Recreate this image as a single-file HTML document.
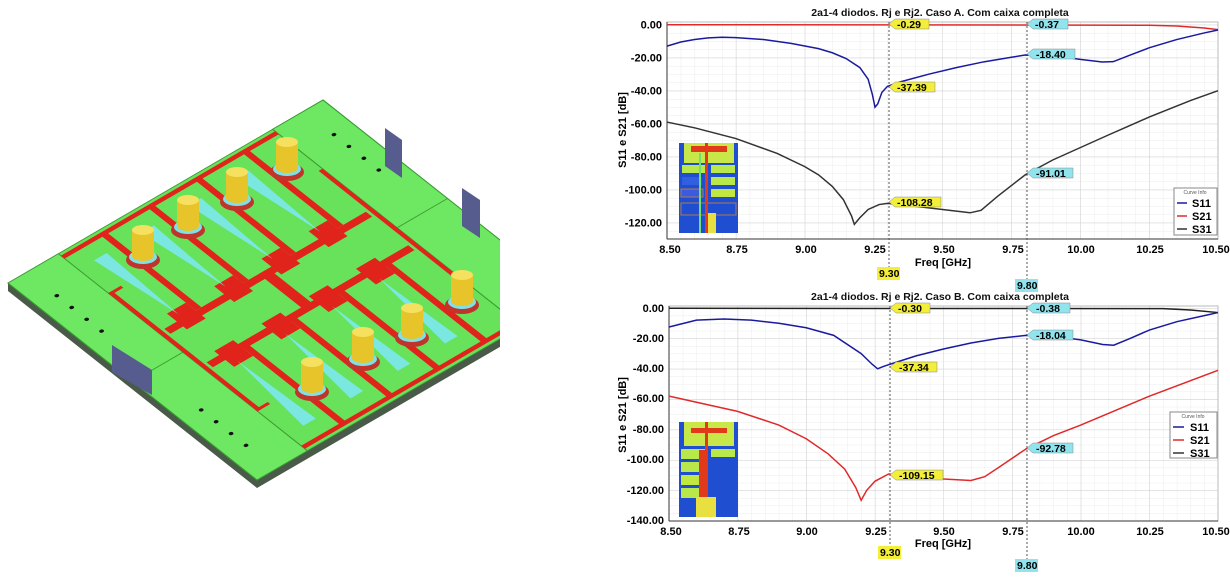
<!DOCTYPE html>
<html><head><meta charset="utf-8"><style>
html,body{margin:0;padding:0;background:#fff;}
svg{display:block;font-family:"Liberation Sans",Arial,sans-serif;}
.t{font-size:10.5px;font-weight:bold;fill:#111;}
.lbl{font-size:11px;font-weight:bold;fill:#000;}
.mk{font-size:10.5px;font-weight:bold;fill:#000;}
</style></head><body>
<svg width="1230" height="584" viewBox="0 0 1230 584" xmlns="http://www.w3.org/2000/svg">
<defs>
 <pattern id="minT" patternUnits="userSpaceOnUse" x="667" y="24.7" width="13.775" height="8.25"><path d="M0 0V8.25M0 0H13.775" stroke="#ececec" stroke-width="1" fill="none"/></pattern>
 <pattern id="majT" patternUnits="userSpaceOnUse" x="667" y="24.7" width="68.875" height="33"><path d="M0 0V33M0 0H68.875" stroke="#cfcfcf" stroke-width="1" fill="none"/></pattern>
 <pattern id="minB" patternUnits="userSpaceOnUse" x="669" y="308" width="13.725" height="7.6"><path d="M0 0V7.6M0 0H13.725" stroke="#ececec" stroke-width="1" fill="none"/></pattern>
 <pattern id="majB" patternUnits="userSpaceOnUse" x="669" y="308" width="68.625" height="30.4"><path d="M0 0V30.4M0 0H68.625" stroke="#cfcfcf" stroke-width="1" fill="none"/></pattern>
 <clipPath id="lc"><rect x="0" y="0" width="500" height="584"/></clipPath>
</defs>

<!-- LEFT PCB -->
<g clip-path="url(#lc)">
 <polygon points="8,283 257,480 572,297 572,305 257,488 8,291" fill="#4a5a48"/>
 <g transform="matrix(3.15,-1.83,2.49,1.97,8,283)">
  <rect x="0" y="0" width="100" height="100" fill="#68e25a" stroke="#3a9a30" stroke-width="0.3"/>
  <rect x="0" y="0" width="16" height="100" fill="#6ee862" stroke="#3a9a30" stroke-width="0.3"/>
  <rect x="84" y="0" width="16" height="100" fill="#6ee862" stroke="#3a9a30" stroke-width="0.3"/>
  <line x1="0" y1="50" x2="16" y2="50" stroke="#3a9a30" stroke-width="0.3"/>
  <line x1="84" y1="50" x2="100" y2="50" stroke="#3a9a30" stroke-width="0.3"/>
  <g fill="#e0241c">
   <rect x="16" y="1" width="68" height="1.5"/>
   <rect x="16" y="97.5" width="68" height="1.5"/>
   <rect x="18" y="40" width="64" height="2.5"/>
   <rect x="18" y="57" width="64" height="2.5"/>
   <rect x="48" y="40" width="3" height="19"/>
   <rect x="28" y="2" width="1.8" height="38"/><rect x="43" y="2" width="1.8" height="38"/><rect x="58" y="2" width="1.8" height="38"/><rect x="73" y="2" width="1.8" height="38"/>
   <rect x="28" y="59" width="1.8" height="39"/><rect x="43" y="59" width="1.8" height="39"/><rect x="58" y="59" width="1.8" height="39"/><rect x="73" y="59" width="1.8" height="39"/>
   <rect x="22" y="36" width="6" height="8"/><rect x="37" y="36" width="6" height="8"/><rect x="52" y="36" width="6" height="8"/><rect x="67" y="36" width="6" height="8"/>
   <rect x="22" y="55" width="6" height="8"/><rect x="37" y="55" width="6" height="8"/><rect x="52" y="55" width="6" height="8"/><rect x="67" y="55" width="6" height="8"/>
   <rect x="16" y="20" width="1.2" height="60"/><rect x="82.8" y="20" width="1.2" height="60"/>
   <rect x="16" y="20" width="4" height="1"/><rect x="16" y="79" width="4" height="1"/>
  </g>
  <g fill="#111"><circle cx="6" cy="12" r="0.6"/><circle cx="6" cy="18" r="0.6"/><circle cx="6" cy="24" r="0.6"/><circle cx="6" cy="30" r="0.6"/><circle cx="6" cy="70" r="0.6"/><circle cx="6" cy="76" r="0.6"/><circle cx="6" cy="82" r="0.6"/><circle cx="6" cy="88" r="0.6"/>
  <circle cx="94" cy="12" r="0.6"/><circle cx="94" cy="18" r="0.6"/><circle cx="94" cy="24" r="0.6"/><circle cx="94" cy="30" r="0.6"/></g>
  <g fill="#7ee8f0" opacity="0.9">
   <polygon points="21,8 25,8 24,38"/><polygon points="36,8 40,8 39,38"/><polygon points="51,8 55,8 54,38"/><polygon points="66,8 70,8 69,38"/>
   <polygon points="21,92 25,92 24,62"/><polygon points="36,92 40,92 39,62"/><polygon points="51,92 55,92 54,62"/><polygon points="66,92 70,92 69,62"/>
  </g>
 </g>
 <polygon points="385,128 402,140 402,178 385,166" fill="#565c8e"/>
 <polygon points="462,188 480,200 480,238 462,226" fill="#565c8e"/>
 <polygon points="112,345 152,370 152,395 112,372" fill="#565c8e"/>
 <g>
  <g transform="translate(143,240)"><ellipse cx="0" cy="20" rx="17" ry="9" fill="#c0342c"/><ellipse cx="0" cy="17" rx="14" ry="7" fill="#7ee0ea"/><rect x="-11" y="-10" width="22" height="26" fill="#e6c42a"/><ellipse cx="0" cy="16" rx="11" ry="5" fill="#e6c42a"/><ellipse cx="0" cy="-10" rx="11" ry="5" fill="#f6e060"/></g>
  <g transform="translate(188,210)"><ellipse cx="0" cy="20" rx="17" ry="9" fill="#c0342c"/><ellipse cx="0" cy="17" rx="14" ry="7" fill="#7ee0ea"/><rect x="-11" y="-10" width="22" height="26" fill="#e6c42a"/><ellipse cx="0" cy="16" rx="11" ry="5" fill="#e6c42a"/><ellipse cx="0" cy="-10" rx="11" ry="5" fill="#f6e060"/></g>
  <g transform="translate(237,182)"><ellipse cx="0" cy="20" rx="17" ry="9" fill="#c0342c"/><ellipse cx="0" cy="17" rx="14" ry="7" fill="#7ee0ea"/><rect x="-11" y="-10" width="22" height="26" fill="#e6c42a"/><ellipse cx="0" cy="16" rx="11" ry="5" fill="#e6c42a"/><ellipse cx="0" cy="-10" rx="11" ry="5" fill="#f6e060"/></g>
  <g transform="translate(287,152)"><ellipse cx="0" cy="20" rx="17" ry="9" fill="#c0342c"/><ellipse cx="0" cy="17" rx="14" ry="7" fill="#7ee0ea"/><rect x="-11" y="-10" width="22" height="26" fill="#e6c42a"/><ellipse cx="0" cy="16" rx="11" ry="5" fill="#e6c42a"/><ellipse cx="0" cy="-10" rx="11" ry="5" fill="#f6e060"/></g>
  <g transform="translate(312,372)"><ellipse cx="0" cy="20" rx="17" ry="9" fill="#c0342c"/><ellipse cx="0" cy="17" rx="14" ry="7" fill="#7ee0ea"/><rect x="-11" y="-10" width="22" height="26" fill="#e6c42a"/><ellipse cx="0" cy="16" rx="11" ry="5" fill="#e6c42a"/><ellipse cx="0" cy="-10" rx="11" ry="5" fill="#f6e060"/></g>
  <g transform="translate(363,342)"><ellipse cx="0" cy="20" rx="17" ry="9" fill="#c0342c"/><ellipse cx="0" cy="17" rx="14" ry="7" fill="#7ee0ea"/><rect x="-11" y="-10" width="22" height="26" fill="#e6c42a"/><ellipse cx="0" cy="16" rx="11" ry="5" fill="#e6c42a"/><ellipse cx="0" cy="-10" rx="11" ry="5" fill="#f6e060"/></g>
  <g transform="translate(412,318)"><ellipse cx="0" cy="20" rx="17" ry="9" fill="#c0342c"/><ellipse cx="0" cy="17" rx="14" ry="7" fill="#7ee0ea"/><rect x="-11" y="-10" width="22" height="26" fill="#e6c42a"/><ellipse cx="0" cy="16" rx="11" ry="5" fill="#e6c42a"/><ellipse cx="0" cy="-10" rx="11" ry="5" fill="#f6e060"/></g>
  <g transform="translate(462,285)"><ellipse cx="0" cy="20" rx="17" ry="9" fill="#c0342c"/><ellipse cx="0" cy="17" rx="14" ry="7" fill="#7ee0ea"/><rect x="-11" y="-10" width="22" height="26" fill="#e6c42a"/><ellipse cx="0" cy="16" rx="11" ry="5" fill="#e6c42a"/><ellipse cx="0" cy="-10" rx="11" ry="5" fill="#f6e060"/></g>
 </g>
</g>

<!-- TOP CHART -->
<text x="940" y="16" text-anchor="middle" class="t">2a1-4 diodos. Rj e Rj2. Caso A. Com caixa completa</text>
<rect x="667" y="22" width="551" height="217" fill="url(#minT)"/>
<rect x="667" y="22" width="551" height="217" fill="url(#majT)"/>
<rect x="667" y="22" width="551" height="217" fill="none" stroke="#bbb"/>
<line x1="667" y1="22" x2="667" y2="239" stroke="#333"/>
<line x1="667" y1="239" x2="1218" y2="239" stroke="#333"/>
<g class="lbl" text-anchor="end">
<text x="662" y="28.5">0.00</text><text x="662" y="61.5">-20.00</text><text x="662" y="94.5">-40.00</text><text x="662" y="127.5">-60.00</text><text x="662" y="160.5">-80.00</text><text x="662" y="193.5">-100.00</text><text x="662" y="226.5">-120.00</text>
</g>
<g class="lbl" text-anchor="middle">
<text x="670" y="253">8.50</text><text x="737" y="253">8.75</text><text x="806" y="253">9.00</text><text x="875" y="253">9.25</text><text x="944" y="253">9.50</text><text x="1013" y="253">9.75</text><text x="1081" y="253">10.00</text><text x="1150" y="253">10.25</text><text x="1216" y="253">10.50</text>
<text x="943" y="266">Freq [GHz]</text>
</g>
<text transform="translate(626,130) rotate(-90)" text-anchor="middle" class="lbl">S11 e S21 [dB]</text>
<line x1="889" y1="22" x2="889" y2="268" stroke="#555" stroke-dasharray="2,2"/>
<line x1="1027" y1="22" x2="1027" y2="280" stroke="#555" stroke-dasharray="2,2"/>
<g transform="translate(679,143)">
 <rect width="59" height="90" fill="#1f4fd0"/><rect x="5" y="0" width="50" height="20" fill="#c8e84a"/><rect x="12" y="3" width="36" height="6" fill="#e03a1a"/>
 <rect x="3" y="22" width="24" height="8" fill="#b8e84a"/><rect x="32" y="22" width="24" height="8" fill="#b8e84a"/>
 <rect x="3" y="34" width="20" height="8" fill="#3060e0"/><rect x="32" y="34" width="24" height="8" fill="#b8e84a"/>
 <rect x="32" y="46" width="24" height="8" fill="#c0e840"/><rect x="2" y="46" width="22" height="8" fill="#3a5ae0" stroke="#b07a50"/>
 <rect x="2" y="60" width="55" height="12" fill="none" stroke="#b07a50"/><rect x="26" y="0" width="3" height="90" fill="#e03a1a"/><rect x="20" y="10" width="2" height="80" fill="#70e070"/><rect x="29" y="70" width="8" height="20" fill="#e8e040"/>
</g>
<g transform="translate(667,24.7) scale(275.5,-1.65) translate(-8.5,0)" fill="none" stroke-width="1.5">
<polyline vector-effect="non-scaling-stroke" stroke="#e02a2a" points="8.5,0 10.25,-0.3 10.35,-0.8 10.45,-2 10.5,-3"/>
<polyline vector-effect="non-scaling-stroke" stroke="#1a1aa0" points="8.5,-13 8.55,-10.5 8.6,-9 8.65,-8 8.7,-7.6 8.75,-7.8 8.85,-9 8.95,-11.3 9.05,-14.5 9.1,-17 9.15,-20.5 9.2,-26 9.23,-33 9.245,-42 9.255,-50 9.265,-48 9.28,-41 9.3,-37.4 9.35,-34.5 9.45,-30 9.55,-26 9.65,-22.5 9.75,-19.7 9.8,-18.4 9.9,-18.7 10,-21 10.08,-22.6 10.12,-22.4 10.18,-18.5 10.25,-14 10.35,-9 10.45,-5 10.5,-3.2"/>
<polyline vector-effect="non-scaling-stroke" stroke="#333" points="8.5,-59 8.6,-62.5 8.75,-69 8.9,-78 9,-86 9.05,-91 9.1,-98 9.14,-106 9.17,-116 9.18,-121 9.2,-117 9.23,-112 9.27,-109 9.3,-108.3 9.4,-110 9.5,-112 9.6,-114 9.64,-112.5 9.7,-104 9.8,-91 9.9,-82 10,-74.5 10.1,-67 10.25,-56 10.4,-46 10.5,-40"/>
</g>
<g class="mk">
<polygon points="889,24 895,19 929,19 929,29 895,29" fill="#f2ee3a" stroke="#888" stroke-width="0.5"/><text x="897" y="28">-0.29</text>
<polygon points="1027,24 1033,19 1068,19 1068,29 1033,29" fill="#8fe4ee" stroke="#888" stroke-width="0.5"/><text x="1035" y="28">-0.37</text>
<polygon points="1027,54 1033,49 1075,49 1075,59 1033,59" fill="#8fe4ee" stroke="#888" stroke-width="0.5"/><text x="1036" y="58">-18.40</text>
<polygon points="889,87 895,82 935,82 935,92 895,92" fill="#f2ee3a" stroke="#888" stroke-width="0.5"/><text x="897" y="91">-37.39</text>
<polygon points="1027,173 1033,168 1073,168 1073,178 1033,178" fill="#8fe4ee" stroke="#888" stroke-width="0.5"/><text x="1036" y="177">-91.01</text>
<polygon points="889,202 895,197 941,197 941,207 895,207" fill="#f2ee3a" stroke="#888" stroke-width="0.5"/><text x="897" y="206">-108.28</text>
<rect x="877" y="267" width="23" height="13" fill="#f2ee3a"/><text x="879" y="277">9.30</text>
<rect x="1015" y="279" width="23" height="13" fill="#8fe4ee"/><text x="1017" y="289">9.80</text>
</g>
<g>
<rect x="1174" y="188" width="43" height="47" fill="#fff" stroke="#888"/>
<text x="1195" y="194" font-size="5" text-anchor="middle" fill="#555">Curve Info</text>
<line x1="1177" y1="203" x2="1187" y2="203" stroke="#1a1aa0" stroke-width="1.5"/><text x="1192" y="207" class="lbl">S11</text>
<line x1="1177" y1="216" x2="1187" y2="216" stroke="#e02a2a" stroke-width="1.5"/><text x="1192" y="220" class="lbl">S21</text>
<line x1="1177" y1="229" x2="1187" y2="229" stroke="#333" stroke-width="1.5"/><text x="1192" y="233" class="lbl">S31</text>
</g>

<!-- BOTTOM CHART -->
<text x="940" y="300" text-anchor="middle" class="t">2a1-4 diodos. Rj e Rj2. Caso B. Com caixa completa</text>
<rect x="669" y="306" width="549" height="215" fill="url(#minB)"/>
<rect x="669" y="306" width="549" height="215" fill="url(#majB)"/>
<rect x="669" y="306" width="549" height="215" fill="none" stroke="#bbb"/>
<line x1="669" y1="306" x2="669" y2="521" stroke="#333"/>
<line x1="669" y1="521" x2="1218" y2="521" stroke="#333"/>
<g class="lbl" text-anchor="end">
<text x="664" y="312">0.00</text><text x="664" y="342">-20.00</text><text x="664" y="372">-40.00</text><text x="664" y="402">-60.00</text><text x="664" y="433">-80.00</text><text x="664" y="463">-100.00</text><text x="664" y="494">-120.00</text><text x="664" y="524">-140.00</text>
</g>
<g class="lbl" text-anchor="middle">
<text x="671" y="535">8.50</text><text x="739" y="535">8.75</text><text x="807" y="535">9.00</text><text x="876" y="535">9.25</text><text x="944" y="535">9.50</text><text x="1013" y="535">9.75</text><text x="1081" y="535">10.00</text><text x="1150" y="535">10.25</text><text x="1216" y="535">10.50</text>
<text x="943" y="547">Freq [GHz]</text>
</g>
<text transform="translate(626,415) rotate(-90)" text-anchor="middle" class="lbl">S11 e S21 [dB]</text>
<line x1="890" y1="306" x2="890" y2="546" stroke="#555" stroke-dasharray="2,2"/>
<line x1="1027" y1="306" x2="1027" y2="559" stroke="#555" stroke-dasharray="2,2"/>
<g transform="translate(679,422)">
 <rect width="59" height="95" fill="#1f4fd0"/><rect x="5" y="0" width="50" height="24" fill="#c8e84a"/><rect x="12" y="6" width="36" height="5" fill="#e03a1a"/>
 <rect x="2" y="27" width="24" height="10" fill="#b8e84a"/><rect x="32" y="27" width="24" height="8" fill="#b8e84a"/>
 <rect x="2" y="40" width="24" height="10" fill="#b8e84a"/><rect x="2" y="53" width="24" height="10" fill="#c0e840"/><rect x="2" y="66" width="24" height="10" fill="#b8e84a"/>
 <rect x="20" y="28" width="6" height="50" fill="#e03a1a"/><rect x="26" y="0" width="3" height="95" fill="#e03a1a"/><rect x="17" y="75" width="20" height="20" fill="#e8e040"/>
</g>
<g transform="translate(669,308) scale(274.5,-1.52) translate(-8.5,0)" fill="none" stroke-width="1.5">
<polyline vector-effect="non-scaling-stroke" stroke="#222" points="8.5,-0.2 10.3,-0.4 10.4,-1.3 10.5,-3"/>
<polyline vector-effect="non-scaling-stroke" stroke="#1a1aa0" points="8.5,-12.5 8.6,-8 8.7,-7.2 8.8,-8 8.9,-10 9,-13 9.1,-18 9.2,-30 9.24,-37 9.26,-40 9.28,-38.5 9.3,-37.3 9.4,-31.5 9.5,-27 9.6,-23 9.7,-20 9.8,-18 9.9,-18.5 10,-21 10.08,-24 10.12,-24.5 10.18,-20 10.25,-14.5 10.35,-9 10.45,-5 10.5,-3"/>
<polyline vector-effect="non-scaling-stroke" stroke="#e02a2a" points="8.5,-58 8.75,-68 8.9,-77 9,-86 9.08,-96 9.14,-106 9.18,-118 9.2,-126.5 9.22,-120 9.25,-114 9.3,-109.2 9.4,-111.5 9.5,-112.5 9.6,-113.5 9.65,-111 9.7,-105 9.8,-92.8 9.9,-84 10,-77 10.25,-58 10.5,-41"/>
</g>
<g class="mk">
<polygon points="890,308 896,303 930,303 930,313 896,313" fill="#f2ee3a" stroke="#888" stroke-width="0.5"/><text x="898" y="312">-0.30</text>
<polygon points="1027,308 1033,303 1070,303 1070,313 1033,313" fill="#8fe4ee" stroke="#888" stroke-width="0.5"/><text x="1036" y="312">-0.38</text>
<polygon points="1027,335 1033,330 1073,330 1073,340 1033,340" fill="#8fe4ee" stroke="#888" stroke-width="0.5"/><text x="1036" y="339">-18.04</text>
<polygon points="890,367 896,362 937,362 937,372 896,372" fill="#f2ee3a" stroke="#888" stroke-width="0.5"/><text x="899" y="371">-37.34</text>
<polygon points="1027,448 1033,443 1073,443 1073,453 1033,453" fill="#8fe4ee" stroke="#888" stroke-width="0.5"/><text x="1036" y="452">-92.78</text>
<polygon points="890,475 896,470 943,470 943,480 896,480" fill="#f2ee3a" stroke="#888" stroke-width="0.5"/><text x="899" y="479">-109.15</text>
<rect x="878" y="546" width="23" height="13" fill="#f2ee3a"/><text x="880" y="556">9.30</text>
<rect x="1015" y="559" width="23" height="13" fill="#8fe4ee"/><text x="1017" y="569">9.80</text>
</g>
<g>
<rect x="1170" y="412" width="47" height="46" fill="#fff" stroke="#888"/>
<text x="1193" y="418" font-size="5" text-anchor="middle" fill="#555">Curve Info</text>
<line x1="1173" y1="427" x2="1184" y2="427" stroke="#1a1aa0" stroke-width="1.5"/><text x="1190" y="431" class="lbl">S11</text>
<line x1="1173" y1="440" x2="1184" y2="440" stroke="#e02a2a" stroke-width="1.5"/><text x="1190" y="444" class="lbl">S21</text>
<line x1="1173" y1="453" x2="1184" y2="453" stroke="#333" stroke-width="1.5"/><text x="1190" y="457" class="lbl">S31</text>
</g>
</svg>
</body></html>
